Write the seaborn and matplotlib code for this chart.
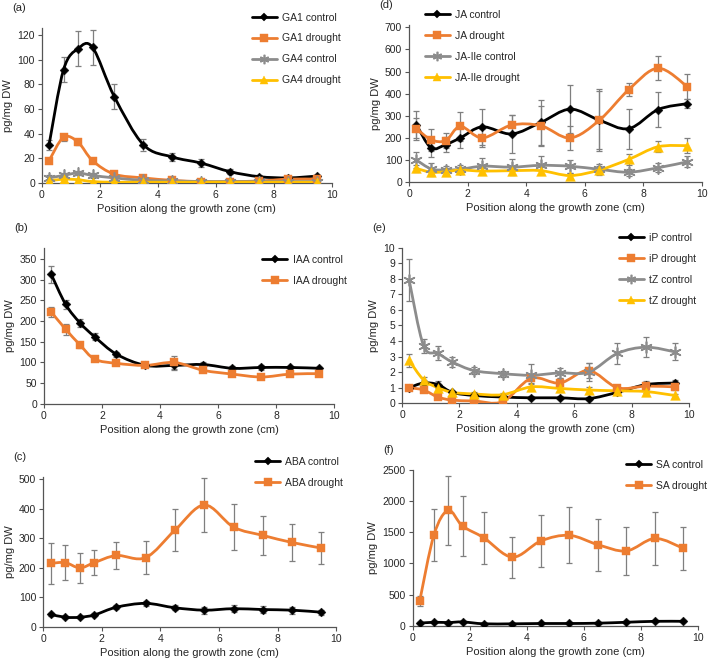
import numpy as np
import matplotlib
matplotlib.use('Agg')
import matplotlib.pyplot as plt
from matplotlib.path import Path
from matplotlib.patches import PathPatch
from matplotlib.lines import Line2D
import seaborn as sns

sns.set_style("ticks")
plt.rcParams['font.family'] = ['Liberation Sans', 'DejaVu Sans']
plt.rcParams['font.size'] = 7.5

# Sampling positions along the growth zone (cm)
position = [0.25, 0.75, 1.25, 1.75, 2.5, 3.5, 4.5, 5.5, 6.5, 7.5, 8.5, 9.5]

# (a) gibberellins
ga1_control = [31, 92, 109, 110, 70, 31, 21, 16, 9, 5, 4, 5.5]
ga1_control_err = [4, 10, 14, 14, 10, 5, 3, 3, 2, 1, 1, 1]
ga1_drought = [18, 37, 33, 18, 7, 4, 2, 1, 1, 1.5, 3, 3]
ga1_drought_err = [2, 3, 2, 1, 1, 1, 1, 0.5, 0.5, 0.5, 0.5, 0.5]
ga4_control = [4, 6, 8, 6, 4, 2, 1.5, 1, 1, 1, 1, 1]
ga4_control_err = [2, 2, 2, 2, 1.5, 1, 1, 1, 1, 1, 1, 1]
ga4_drought = [1.5, 3, 2.5, 1, 0.5, 0.5, 0.5, 0.5, 0.5, 0.5, 0.5, 0.5]
ga4_drought_err = [0.5, 0.5, 0.5, 0.3, 0.2, 0.2, 0.2, 0.2, 0.2, 0.2, 0.2, 0.2]

# (b) auxin
iaa_control = [313, 240, 195, 162, 120, 93, 93, 95, 86, 88, 88, 86]
iaa_control_err = [20, 12, 10, 8, 6, 5, 10, 7, 5, 5, 4, 4]
iaa_drought = [222, 180, 142, 108, 98, 93, 100, 81, 72, 65, 72, 73]
iaa_drought_err = [12, 14, 8, 4, 4, 4, 16, 5, 4, 4, 4, 4]

# (c) abscisic acid
aba_control = [43, 33, 33, 41, 67, 80, 65, 57, 62, 59, 57, 50]
aba_control_err = [5, 4, 4, 5, 6, 8, 8, 12, 12, 12, 12, 8]
aba_drought = [215, 218, 200, 218, 242, 235, 328, 413, 338, 310, 286, 267]
aba_drought_err = [68, 58, 50, 43, 45, 57, 72, 92, 78, 67, 62, 55]

# (d) jasmonates
ja_control = [260, 155, 170, 200, 250, 218, 270, 330, 280, 242, 328, 355]
ja_control_err = [60, 40, 35, 45, 80, 85, 100, 110, 130, 90, 80, 20]
ja_drought = [242, 192, 188, 252, 200, 258, 255, 200, 280, 418, 515, 432]
ja_drought_err = [50, 50, 35, 65, 40, 45, 90, 55, 140, 30, 55, 55]
jaile_control = [100, 60, 55, 58, 72, 68, 76, 72, 58, 45, 65, 92]
jaile_control_err = [35, 25, 20, 20, 35, 35, 40, 30, 25, 15, 20, 25]
jaile_drought = [62, 45, 47, 55, 50, 52, 52, 30, 55, 103, 160, 165]
jaile_drought_err = [15, 15, 15, 15, 15, 15, 15, 10, 20, 25, 25, 35]

# (e) cytokinins
ip_control = [1.0, 1.3, 1.2, 0.7, 0.5, 0.4, 0.35, 0.35, 0.3, 0.7, 1.2, 1.3]
ip_control_err = [0.15, 0.2, 0.2, 0.1, 0.1, 0.1, 0.1, 0.1, 0.1, 0.1, 0.2, 0.2]
ip_drought = [1.0, 0.85, 0.4, 0.2, 0.15, 0.1, 1.6, 1.3, 2.1, 1.0, 1.1, 1.05]
ip_drought_err = [0.1, 0.1, 0.1, 0.1, 0.1, 0.1, 0.3, 0.3, 0.5, 0.2, 0.2, 0.2]
tz_control = [7.9, 3.7, 3.2, 2.65, 2.1, 1.9, 1.8, 1.95, 2.0, 3.2, 3.6, 3.3]
tz_control_err = [1.35, 0.45, 0.45, 0.3, 0.2, 0.2, 0.75, 0.3, 0.6, 0.7, 0.65, 0.55]
tz_drought = [2.75, 1.5, 1.0, 0.7, 0.6, 0.55, 1.05, 0.95, 0.85, 0.8, 0.75, 0.5]
tz_drought_err = [0.4, 0.2, 0.2, 0.1, 0.1, 0.1, 0.2, 0.2, 0.2, 0.1, 0.1, 0.1]

# (f) salicylic acid
sa_control = [40, 55, 50, 60, 30, 30, 35, 35, 40, 55, 70, 70]
sa_control_err = [15, 15, 15, 15, 15, 15, 15, 15, 15, 15, 15, 15]
sa_drought = [400, 1460, 1850, 1600, 1410, 1100, 1360, 1450, 1300, 1200, 1400, 1240]
sa_drought_err = [80, 420, 550, 480, 420, 330, 420, 450, 420, 380, 420, 350]

BLACK = "#000000"
ORANGE = "#ED7D31"
GRAY = "#8C8C8C"
YELLOW = "#FFC000"
ERR = "#7F7F7F"

# marker style per series type
STYLES = {
    "control": dict(color=BLACK, marker="D", ms=4.5),
    "drought": dict(color=ORANGE, marker="s", ms=6),
    "control2": dict(color=GRAY, marker=(6, 2, 0), ms=8),
    "drought2": dict(color=YELLOW, marker="^", ms=7),
}


def smooth_line(ax, x, y, color, lw=2.0):
    """Excel-like smoothed line (Catmull-Rom as cubic Bezier) through the points."""
    pts = np.column_stack([x, y]).astype(float)
    n = len(pts)
    verts = [pts[0]]
    codes = [Path.MOVETO]
    for i in range(n - 1):
        p0 = pts[i - 1] if i > 0 else pts[i]
        p1, p2 = pts[i], pts[i + 1]
        p3 = pts[i + 2] if i + 2 < n else pts[i + 1]
        c1 = p1 + (p2 - p0) / 6.0
        c2 = p2 - (p3 - p1) / 6.0
        verts += [c1, c2, p2]
        codes += [Path.CURVE4] * 3
    ax.add_patch(PathPatch(Path(verts, codes), fill=False, edgecolor=color,
                           lw=lw, capstyle="round", joinstyle="round", zorder=3))


def draw_panel(ax, letter, series, ylim, yticks, legend_xy):
    handles = []
    for label, kind, vals, errs in series:
        st = STYLES[kind]
        ax.errorbar(position, vals, yerr=errs, fmt="none", ecolor=ERR,
                    elinewidth=0.9, capsize=2.5, capthick=0.9, zorder=2)
        smooth_line(ax, position, vals, st["color"])
        mk = st["marker"]
        sns.scatterplot(x=position, y=vals, marker=mk, color=st["color"],
                        s=st["ms"] ** 2, edgecolor=st["color"],
                        linewidth=1.2 if kind == "control2" else 0.3,
                        ax=ax, zorder=4, legend=False)
        handles.append(Line2D([0], [0], color=st["color"], lw=2.0, marker=mk,
                              markersize=st["ms"] * 0.85, markeredgecolor=st["color"],
                              markeredgewidth=1.2 if kind == "control2" else 0.3,
                              label=label))
    ax.set_xlim(0, 10)
    ax.set_xticks([0, 2, 4, 6, 8, 10])
    ax.set_ylim(*ylim)
    ax.set_yticks(yticks)
    ax.set_xlabel("Position along the growth zone (cm)", fontsize=8, labelpad=3)
    ax.set_ylabel("pg/mg DW", fontsize=8, labelpad=3)
    ax.tick_params(labelsize=7.5, length=3, width=0.8, color="#555555", pad=2)
    for sp in ("left", "bottom"):
        ax.spines[sp].set_color("#555555")
        ax.spines[sp].set_linewidth(0.9)
    sns.despine(ax=ax)
    ax.legend(handles=handles, loc="upper left", bbox_to_anchor=legend_xy,
              bbox_transform=ax.figure.transFigure, frameon=False,
              fontsize=7.5, handlelength=2.4, handletextpad=0.5,
              labelspacing=1.05, borderpad=0, borderaxespad=0)
    bb = ax.get_position()
    ax.figure.text(bb.x0 - 0.042, bb.y1 + 0.03, letter, fontsize=8,
                   ha="left", va="center")


fig = plt.figure(figsize=(7.09, 6.6), dpi=100)

ax_a = fig.add_axes([0.059, 0.723, 0.409, 0.235])
draw_panel(ax_a, "(a)", [
    ("GA1 control", "control", ga1_control, ga1_control_err),
    ("GA1 drought", "drought", ga1_drought, ga1_drought_err),
    ("GA4 control", "control2", ga4_control, ga4_control_err),
    ("GA4 drought", "drought2", ga4_drought, ga4_drought_err),
], (0, 126), range(0, 121, 20), (0.355, 0.981))

ax_b = fig.add_axes([0.062, 0.388, 0.409, 0.236])
draw_panel(ax_b, "(b)", [
    ("IAA control", "control", iaa_control, iaa_control_err),
    ("IAA drought", "drought", iaa_drought, iaa_drought_err),
], (0, 376), range(0, 351, 50), (0.370, 0.614))

ax_c = fig.add_axes([0.061, 0.050, 0.413, 0.227])
draw_panel(ax_c, "(c)", [
    ("ABA control", "control", aba_control, aba_control_err),
    ("ABA drought", "drought", aba_drought, aba_drought_err),
], (0, 507), range(0, 501, 100), (0.360, 0.308))

ax_d = fig.add_axes([0.577, 0.724, 0.413, 0.238])
draw_panel(ax_d, "(d)", [
    ("JA control", "control", ja_control, ja_control_err),
    ("JA drought", "drought", ja_drought, ja_drought_err),
    ("JA-Ile control", "control2", jaile_control, jaile_control_err),
    ("JA-Ile drought", "drought2", jaile_drought, jaile_drought_err),
], (0, 710), range(0, 701, 100), (0.599, 0.985))

ax_e = fig.add_axes([0.567, 0.389, 0.405, 0.236])
draw_panel(ax_e, "(e)", [
    ("iP control", "control", ip_control, ip_control_err),
    ("iP drought", "drought", ip_drought, ip_drought_err),
    ("tZ control", "control2", tz_control, tz_control_err),
    ("tZ drought", "drought2", tz_drought, tz_drought_err),
], (0, 10), range(0, 11), (0.873, 0.647))

ax_f = fig.add_axes([0.582, 0.052, 0.402, 0.236])
draw_panel(ax_f, "(f)", [
    ("SA control", "control", sa_control, sa_control_err),
    ("SA drought", "drought", sa_drought, sa_drought_err),
], (0, 2500), range(0, 2501, 500), (0.883, 0.303))

fig.savefig("out.png", dpi=100)
